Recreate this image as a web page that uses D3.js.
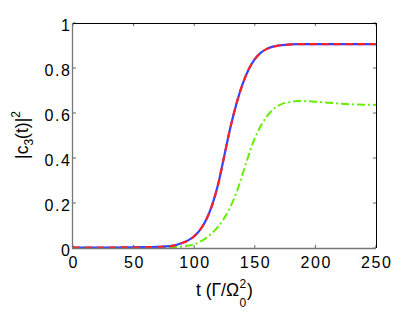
<!DOCTYPE html>
<html>
<head>
<meta charset="utf-8">
<script src="https://cdn.jsdelivr.net/npm/d3@7"></script>
<style>
  body { margin: 0; background: #fff; }
  svg { display: block; font-family: 'Liberation Sans', Arial, sans-serif; }
</style>
</head>
<body>
<svg width="415" height="312"></svg>
<script>
'use strict'

// time axis (units of Gamma / Omega_0^2)
const tVals = [0, 25, 50, 60, 70, 80, 90, 100, 105, 110, 115, 120, 125, 130, 135, 140, 145, 150,
  155, 160, 165, 170, 175, 180, 185, 190, 200, 210, 225, 250]
// |c3(t)|^2, solid blue curve
const blueVals = [0.002, 0.002, 0.003, 0.004, 0.005, 0.008, 0.022, 0.052, 0.082, 0.127, 0.194, 0.289, 0.414,
  0.539, 0.644, 0.729, 0.794, 0.839, 0.868, 0.885, 0.895, 0.9, 0.903, 0.905, 0.906, 0.906, 0.906, 0.906, 0.906, 0.906]
// dashed red curve (lies on top of the blue one)
const redVals = [0.002, 0.002, 0.003, 0.004, 0.005, 0.008, 0.022, 0.052, 0.082, 0.127, 0.194, 0.289, 0.414,
  0.539, 0.644, 0.729, 0.794, 0.839, 0.868, 0.885, 0.895, 0.9, 0.903, 0.905, 0.906, 0.906, 0.906, 0.906, 0.906, 0.906]
// dash-dot green curve
const greenVals = [0, 0, 0.001, 0.001, 0.002, 0.003, 0.007, 0.016, 0.028, 0.045, 0.068, 0.097, 0.135, 0.185,
  0.248, 0.33, 0.413, 0.488, 0.543, 0.585, 0.615, 0.634, 0.645, 0.65, 0.653, 0.653, 0.65, 0.646, 0.64, 0.636]

const xTicks = [0, 50, 100, 150, 200, 250]
const yTicks = [0, 0.2, 0.4, 0.6, 0.8, 1]

const pLeft = 73, pRight = 376, pTop = 23, pBottom = 248
const svg = d3.select('svg')

const x = d3.scaleLinear().domain([0, 250]).range([pLeft, pRight])
const y = d3.scaleLinear().domain([0, 1]).range([pBottom, pTop])

// ticks, inward on all four sides
const tickG = svg.append('g').attr('stroke', '#666').attr('stroke-width', 1)
xTicks.forEach((t) => {
  tickG.append('line').attr('x1', x(t)).attr('x2', x(t)).attr('y1', pBottom).attr('y2', pBottom - 3)
  tickG.append('line').attr('x1', x(t)).attr('x2', x(t)).attr('y1', pTop).attr('y2', pTop + 3)
})
yTicks.forEach((v) => {
  tickG.append('line').attr('x1', pLeft).attr('x2', pLeft + 3).attr('y1', y(v)).attr('y2', y(v))
  tickG.append('line').attr('x1', pRight).attr('x2', pRight - 3).attr('y1', y(v)).attr('y2', y(v))
})

// frame
svg.append('line').attr('x1', pLeft).attr('x2', pRight).attr('y1', pTop + 0.5).attr('y2', pTop + 0.5)
  .attr('stroke', '#000')
svg.append('line').attr('x1', pRight + 0.5).attr('x2', pRight + 0.5).attr('y1', pTop).attr('y2', pBottom)
  .attr('stroke', '#000')

// curves
const line = (vals) => d3.line()
  .x((d, i) => x(tVals[i]))
  .y((d) => y(d))
  .curve(d3.curveMonotoneX)(vals)

svg.append('path').attr('d', line(greenVals)).attr('fill', 'none')
  .attr('stroke', '#66ee00').attr('stroke-width', 2).attr('stroke-dasharray', '8,3,2,3')
svg.append('path').attr('d', line(blueVals)).attr('fill', 'none')
  .attr('stroke', '#3344ff').attr('stroke-width', 2.2)
svg.append('path').attr('d', line(redVals)).attr('fill', 'none')
  .attr('stroke', '#ff2222').attr('stroke-width', 2.2).attr('stroke-dasharray', '7,5')

svg.append('line').attr('x1', pLeft - 0.5).attr('x2', pLeft - 0.5).attr('y1', pTop).attr('y2', pBottom + 1)
  .attr('stroke', '#777').attr('stroke-width', 1.3)
svg.append('line').attr('x1', pLeft - 1).attr('x2', pRight).attr('y1', pBottom + 0.5).attr('y2', pBottom + 0.5)
  .attr('stroke', '#777').attr('stroke-width', 1.3)

// tick labels
const ls = 1.6
svg.append('g').selectAll('text').data(xTicks).enter().append('text')
  .attr('x', (d) => x(d) + ls / 2).attr('y', 268)
  .attr('text-anchor', 'middle').attr('font-size', 16).attr('letter-spacing', ls)
  .text((d) => d)
svg.append('g').selectAll('text').data(yTicks).enter().append('text')
  .attr('x', 70 + ls).attr('y', (d) => y(d) + 7.5)
  .attr('text-anchor', 'end').attr('font-size', 16).attr('letter-spacing', ls)
  .text((d) => d)

// y label |c3(t)|^2
const yl = svg.append('text').attr('transform', 'translate(28,135) rotate(-90)')
  .attr('text-anchor', 'middle').attr('font-size', 17.5)
yl.append('tspan').text('|c')
yl.append('tspan').attr('font-size', 12).attr('dy', 4.5).text('3')
yl.append('tspan').attr('dy', -4.5).text('(t)|')
yl.append('tspan').attr('font-size', 12).attr('dy', -8.5).text('2')

// x label t (Γ/Ω0^2)
const xl = svg.append('g')
const main = xl.append('text').attr('x', 0).attr('y', 296).attr('font-size', 17.5).text('t (Γ/Ω')
const w = main.node().getComputedTextLength()
xl.append('text').attr('x', w + 0.5).attr('y', 287.5).attr('font-size', 12).text('2')
xl.append('text').attr('x', w + 0.5).attr('y', 306.5).attr('font-size', 12).text('0')
xl.append('text').attr('x', w + 8).attr('y', 296).attr('font-size', 17.5).text(')')
const total = w + 8 + 6
xl.attr('transform', `translate(${(pLeft + pRight) / 2 - total / 2},0)`)
</script>
</body>
</html>
